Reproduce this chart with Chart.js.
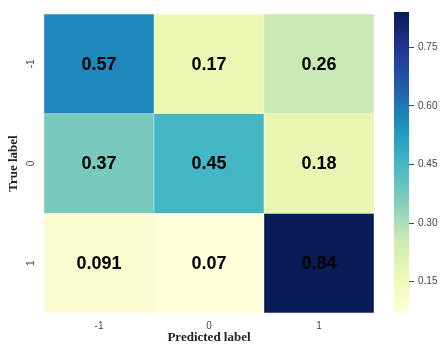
<!DOCTYPE html>
<html>
<head>
<meta charset="utf-8">
<script src="https://cdn.jsdelivr.net/npm/chart.js@4.4.1/dist/chart.umd.min.js"></script>
<style>
  html, body { margin: 0; padding: 0; background: #ffffff; }
  #wrap { position: relative; width: 440px; height: 345px; overflow: hidden; }
  #heat { position: absolute; left: 0; top: 0; }
  #cbar { position: absolute; left: 380px; top: 0; }
</style>
</head>
<body>
<div id="wrap">
  <canvas id="heat" width="390" height="345"></canvas>
  <canvas id="cbar" width="60" height="345"></canvas>
</div>
<script>
// Confusion matrix: rows = true label, columns = predicted label
const predictedLabels = ['-1', '0', '1'];
const trueLabels = ['-1', '0', '1'];
const rowMinus1 = [0.57, 0.17, 0.26];
const rowZero = [0.37, 0.45, 0.18];
const rowPlus1 = [0.091, 0.07, 0.84];
const matrix = [rowMinus1, rowZero, rowPlus1];

// Colour bar range and ticks
const cbMin = 0.07;
const cbMax = 0.84;
const cbTicks = [0.15, 0.30, 0.45, 0.60, 0.75];

// YlGnBu colour map stops
const YLGNBU = ['#ffffd9', '#edf8b1', '#c7e9b4', '#7fcdbb', '#41b6c4', '#1d91c0', '#225ea8', '#253494', '#081d58'];

function hexToRgb(h) {
  return [parseInt(h.slice(1, 3), 16), parseInt(h.slice(3, 5), 16), parseInt(h.slice(5, 7), 16)];
}
function colorFor(v) {
  let t = (v - cbMin) / (cbMax - cbMin);
  t = Math.max(0, Math.min(1, t));
  const pos = t * (YLGNBU.length - 1);
  const i = Math.min(Math.floor(pos), YLGNBU.length - 2);
  const f = pos - i;
  const a = hexToRgb(YLGNBU[i]), b = hexToRgb(YLGNBU[i + 1]);
  const c = a.map((x, k) => Math.round(x + (b[k] - x) * f));
  return 'rgb(' + c.join(',') + ')';
}

const tickFont = { family: '"Liberation Sans", Arial, sans-serif', size: 10 };
const titleFont = { family: '"Liberation Serif", "Times New Roman", serif', size: 13, weight: 'bold' };
const textColor = '#444444';

// Cell value annotations, placed through the chart's scales
const cellLabels = {
  id: 'cellLabels',
  afterDatasetsDraw(chart) {
    const { ctx, scales } = chart;
    ctx.save();
    ctx.font = 'bold 18px "Liberation Sans", Arial, sans-serif';
    ctx.fillStyle = '#000000';
    ctx.textAlign = 'center';
    ctx.textBaseline = 'middle';
    matrix.forEach((row, r) => {
      row.forEach((v, c) => {
        const x = scales.x.getPixelForValue(c);
        const y = scales.y.getPixelForValue(r);
        ctx.fillText(String(v), x, y + 1);
      });
    });
    ctx.restore();
  }
};

new Chart(document.getElementById('heat'), {
  type: 'bar',
  data: {
    labels: predictedLabels,
    datasets: matrix.map((row, r) => ({
      data: row.map(() => [r - 0.5, r + 0.5]),
      backgroundColor: row.map(v => colorFor(v)),
      borderColor: 'rgba(255,255,255,0.45)',
      borderWidth: 0.5,
      borderSkipped: false,
      grouped: false,
      categoryPercentage: 1,
      barPercentage: 1
    }))
  },
  options: {
    responsive: false,
    animation: false,
    events: [],
    layout: { padding: { top: 12, right: 16, left: 0, bottom: 0 } },
    plugins: { legend: { display: false }, tooltip: { enabled: false } },
    scales: {
      x: {
        grid: { display: false, drawTicks: false },
        border: { display: false },
        ticks: { font: tickFont, color: textColor, padding: 7 },
        title: { display: true, text: 'Predicted label', font: titleFont, color: '#222222', padding: { top: 0, bottom: 0 } },
        afterFit(s) { s.height = 32; }
      },
      y: {
        type: 'linear',
        reverse: true,
        min: -0.5,
        max: 2.5,
        afterBuildTicks(s) { s.ticks = trueLabels.map((_, i) => ({ value: i })); },
        grid: { display: false, drawTicks: false },
        border: { display: false },
        ticks: {
          font: tickFont, color: textColor, padding: 8,
          minRotation: 90, maxRotation: 90, crossAlign: 'center',
          callback: (v) => trueLabels[v]
        },
        title: { display: true, text: 'True label', font: titleFont, color: '#222222', padding: { top: 6, bottom: 0 } },
        afterFit(s) { s.width = 44; }
      }
    }
  },
  plugins: [cellLabels]
});

new Chart(document.getElementById('cbar'), {
  type: 'bar',
  data: {
    labels: [''],
    datasets: [{
      data: [[cbMin, cbMax]],
      backgroundColor(c) {
        const chart = c.chart;
        if (!chart.chartArea) return null;
        const y = chart.scales.y;
        const g = chart.ctx.createLinearGradient(0, y.getPixelForValue(cbMin), 0, y.getPixelForValue(cbMax));
        YLGNBU.forEach((col, i) => g.addColorStop(i / (YLGNBU.length - 1), col));
        return g;
      },
      borderWidth: 0,
      categoryPercentage: 1,
      barPercentage: 1
    }]
  },
  options: {
    responsive: false,
    animation: false,
    events: [],
    layout: { padding: { left: 14, top: 12, bottom: 32, right: 0 } },
    plugins: { legend: { display: false }, tooltip: { enabled: false } },
    scales: {
      x: { display: false },
      y: {
        position: 'right',
        min: cbMin,
        max: cbMax,
        afterBuildTicks(s) { s.ticks = cbTicks.map(v => ({ value: v })); },
        grid: { drawOnChartArea: false, drawTicks: true, tickLength: 5, color: textColor },
        border: { display: false },
        ticks: { font: { family: '"Liberation Sans", Arial, sans-serif', size: 10 }, color: textColor, padding: 4, callback: v => v.toFixed(2) },
        afterFit(s) { s.width = 31; }
      }
    }
  }
});
</script>
</body>
</html>
